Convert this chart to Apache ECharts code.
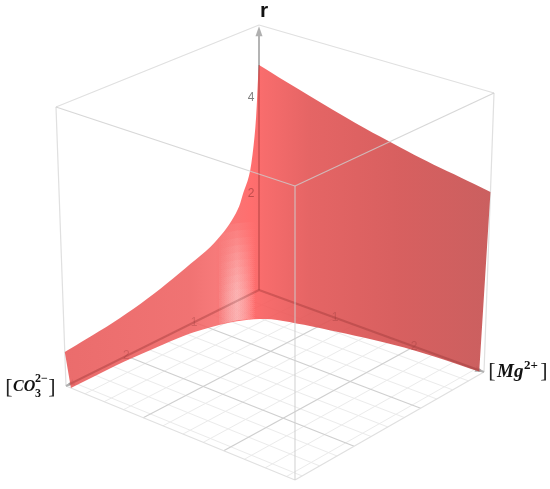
<!DOCTYPE html>
<html><head><meta charset="utf-8">
<style>html,body{margin:0;padding:0;background:#fff}#c{width:550px;height:489px}</style>
<script src="https://cdn.jsdelivr.net/npm/echarts@6/dist/echarts.min.js"></script>
</head><body><div id="c"></div>
<script>
// ---- data: r over the ([CO3], [Mg]) plane ----
const co3Max = 2.85, mgMax = 2.85, rMax = 5.5;
const floorMajor = [1, 2];
const floorMinor = [0.25,0.5,0.75,1.25,1.5,1.75,2.25,2.5,2.75];
const rTicks = [2, 4];
// surface edge against the r-[CO3] wall, from [CO3] end to the corner
const co3Edge  = [2.85,2.545,2.08,1.58,1.125,0.75,0.50,0.33,0.24,0.135,0.055,0.014,0.00];
const co3EdgeR = [0.67,0.72,0.81,0.97,1.18,1.37,1.60,1.87,2.17,2.57,3.42,4.42,4.67];
// surface edge against the r-[Mg] wall, from the corner to [Mg] end
const mgEdge   = [0.00,0.50,1.23,1.70,2.10,2.50,2.85];
const mgEdgeR  = [4.67,4.42,4.08,3.90,3.76,3.65,3.55];
// where the surface meets the floor, from [Mg] end to [CO3] end
const rootMg   = [2.81,2.14,1.68,1.23,0.79,0.49,0.31,0.195,0.126,0.088,0.065,0.065];
const rootCo3  = [0.023,0.057,0.13,0.234,0.353,0.476,0.704,0.998,1.31,1.76,2.21,2.85];

// ---- view: where the box corners land on the page ----
const floorQuad = [[259,290],[66,386],[295,480],[484,372]]; // origin, CO3 end, both, Mg end
const topQuad   = [[259,25],[56,107],[295,186],[494,93]];

function homography(q){
  const [x0,y0]=q[0],[x1,y1]=q[1],[x2,y2]=q[2],[x3,y3]=q[3];
  const dx1=x1-x2,dx2=x3-x2,sx=x0-x1+x2-x3,dy1=y1-y2,dy2=y3-y2,sy=y0-y1+y2-y3;
  const den=dx1*dy2-dx2*dy1, g=(sx*dy2-dx2*sy)/den, h=(dx1*sy-sx*dy1)/den;
  const a=x1-x0+g*x1,b=x3-x0+h*x3,d=y1-y0+g*y1,e=y3-y0+h*y3;
  return (s,t)=>{const w=g*s+h*t+1;return [(a*s+b*t+x0)/w,(d*s+e*t+y0)/w];};
}
const H0=homography(floorQuad), H1=homography(topQuad);
function view(u,v,r){
  const s=u/co3Max,t=v/mgMax,k=r/rMax,p=H0(s,t),q=H1(s,t);
  return [p[0]+(q[0]-p[0])*k,p[1]+(q[1]-p[1])*k];
}
function spline(pts,n){ // smooth rendering of a read curve
  const out=[];
  for(let i=0;i<pts.length-1;i++){
    const p0=pts[Math.max(i-1,0)],p1=pts[i],p2=pts[i+1],p3=pts[Math.min(i+2,pts.length-1)];
    for(let j=0;j<n;j++){const t=j/n,t2=t*t,t3=t2*t;
      out.push([0,1].map(c=>0.5*(2*p1[c]+(p2[c]-p0[c])*t+(2*p0[c]-5*p1[c]+4*p2[c]-p3[c])*t2+(3*p1[c]-p0[c]-3*p2[c]+p3[c])*t3)));}
  }
  out.push(pts[pts.length-1]);
  return out;
}
const leftPts  = co3Edge.map((u,i)=>[u,0,co3EdgeR[i]]);
const rightPts = mgEdge.map((v,i)=>[0,v,mgEdgeR[i]]);
const rootPts  = rootMg.map((v,i)=>[rootCo3[i],v,0]);

// line lists [u1,v1,r1,u2,v2,r2]
const minorLines=[],majorLines=[];
floorMinor.forEach(t=>{minorLines.push([t,0,0,t,mgMax,0],[0,t,0,co3Max,t,0]);});
floorMajor.forEach(t=>{majorLines.push([t,0,0,t,mgMax,0],[0,t,0,co3Max,t,0]);});
const backBox=[[0,0,rMax,co3Max,0,rMax],[0,0,rMax,0,mgMax,rMax],[co3Max,0,0,co3Max,0,rMax],[0,mgMax,0,0,mgMax,rMax],
  [co3Max,0,0,co3Max,mgMax,0],[0,mgMax,0,co3Max,mgMax,0]];
const frontBox=[[co3Max,mgMax,0,co3Max,mgMax,rMax],[co3Max,0,rMax,co3Max,mgMax,rMax],[0,mgMax,rMax,co3Max,mgMax,rMax]];
const axesLines=[[0,0,0,0,0,rMax*0.97],[0,0,0,co3Max,0,0],[0,0,0,0,mgMax,0]];
const axesUnder=[[0,0,0,0,0,4.67],[0,0,0,co3Max*0.985,0,0],[0,0,0,0,mgMax*0.985,0]];

function lineSeries(data,stroke,width,z){
  return {type:'custom',coordinateSystem:'cartesian2d',silent:true,z:z,clip:false,data:data,
    encode:{x:0,y:1},
    renderItem:(p,api)=>{
      const a=api.coord(view(api.value(0),api.value(1),api.value(2)));
      const b=api.coord(view(api.value(3),api.value(4),api.value(5)));
      return {type:'line',shape:{x1:a[0],y1:a[1],x2:b[0],y2:b[1]},style:{stroke:stroke,lineWidth:width,fill:null}};
    }};
}
function wholeSeries(fn,z){
  return {type:'custom',coordinateSystem:'cartesian2d',silent:true,z:z,clip:false,data:[[0,0]],encode:{x:0,y:1},
    renderItem:(p,api)=>fn(api)};
}
function drawSurface(api){
  const c=q=>api.coord(view(q[0],q[1],q[2]));
  const left=spline(leftPts.map(c),5),right=spline(rightPts.map(c),5),root=spline(rootPts.map(c),5);
  const pts=left.concat(right.slice(1),root);
  const a=60,b=492,w=b-a;
  const at=x=>(x-a)/w;
  const fill=new echarts.graphic.LinearGradient(a,0,b,0,[
    {offset:0,color:'rgba(231,84,84,.86)'},
    {offset:at(190),color:'rgba(238,92,92,.86)'},
    {offset:at(215),color:'rgba(245,100,100,.86)'},
    {offset:at(252),color:'rgba(255,90,90,.88)'},
    {offset:at(264),color:'rgba(246,88,88,.88)'},
    {offset:at(310),color:'rgba(226,84,84,.9)'},
    {offset:at(400),color:'rgba(212,82,82,.92)'},
    {offset:1,color:'rgba(198,82,82,.92)'}],true);
  return {type:'polygon',shape:{points:pts},style:{fill:fill,stroke:null}};
}
function drawStreak(height,alpha,x0,x1){
  return api=>{
    const base=[[0.998,0.195],[0.704,0.31],[0.476,0.49]];
    const lo=base.map(b=>api.coord(view(b[0],b[1],0.02)));
    const hi=base.slice().reverse().map(b=>api.coord(view(b[0],b[1],height)));
    const fill=new echarts.graphic.LinearGradient(x0,0,x1,0,[
      {offset:0,color:'rgba(255,255,255,0)'},
      {offset:0.5,color:'rgba(255,240,240,'+alpha+')'},
      {offset:1,color:'rgba(255,255,255,0)'}],true);
    return {type:'polygon',shape:{points:lo.concat(hi)},style:{fill:fill,stroke:null}};
  };
}
const streakLayers=[2.0,1.85,1.7,1.55,1.4,1.25,1.1,0.95,0.8,0.65];
function arrow(tip,dir,len,half,z){
  return wholeSeries(api=>{
    const t=api.coord(view(tip[0],tip[1],tip[2])),d=api.coord(view(dir[0],dir[1],dir[2]));
    const dx=d[0]-t[0],dy=d[1]-t[1],l=Math.hypot(dx,dy),ux=dx/l,uy=dy/l;
    return {type:'polygon',shape:{points:[t,[t[0]+ux*len-uy*half,t[1]+uy*len+ux*half],[t[0]+ux*len+uy*half,t[1]+uy*len-ux*half]]},
      style:{fill:'#b0b0b0',stroke:null}};
  },z);
}
function textSeries(items,z){
  return wholeSeries(()=>({type:'group',children:items.map(t=>({type:'text',
    style:{x:t.x,y:t.y,text:t.text,font:t.font,fill:t.fill,align:t.align||'center',verticalAlign:'middle'}}))}),z);
}
function tickLabelSeries(items,z){
  return wholeSeries(api=>({type:'group',children:items.map(t=>{
    const p=api.coord(view(t.p[0],t.p[1],t.p[2]));
    return {type:'text',style:{x:p[0]+t.dx,y:p[1],text:String(t.text),font:'12px "Liberation Sans"',fill:t.fill,align:'center',verticalAlign:'middle'}};
  })}),z);
}
const tickItems=[
  {p:[0,0,rTicks[1]],dx:-8,text:rTicks[1],fill:'#808080'},
  {p:[0,0,rTicks[0]],dx:-8,text:rTicks[0],fill:'rgba(140,50,50,.55)'}
].concat(
  floorMajor.map(t=>({p:[t,0,0],dx:0,text:t,fill:'rgba(140,50,50,.3)'})),
  floorMajor.map(t=>({p:[0,t,0],dx:0,text:t,fill:'rgba(140,50,50,.3)'})));

const mathFont=s=>'italic bold '+s+'px "Liberation Serif"';
const labels=[
  {x:9,y:387,text:'[',font:'22px "Liberation Serif"',fill:'#222'},
  {x:13,y:387,text:'CO',font:mathFont(16),fill:'#111',align:'left'},
  {x:35,y:379,text:'2−',font:'bold 12px "Liberation Serif"',fill:'#111',align:'left'},
  {x:38,y:394,text:'3',font:'bold 12px "Liberation Serif"',fill:'#111'},
  {x:52,y:387,text:']',font:'22px "Liberation Serif"',fill:'#222'},
  {x:492,y:371,text:'[',font:'22px "Liberation Serif"',fill:'#222'},
  {x:497,y:372,text:'Mg',font:mathFont(19),fill:'#111',align:'left'},
  {x:524,y:366,text:'2+',font:'bold 13px "Liberation Serif"',fill:'#111',align:'left'},
  {x:544,y:371,text:']',font:'22px "Liberation Serif"',fill:'#222'},
  {x:264,y:11,text:'r',font:'bold 21px "Liberation Sans"',fill:'#111'}
];

const chart=echarts.init(document.getElementById('c'),null,{renderer:'canvas'});
chart.setOption({
  animation:false,backgroundColor:'#fff',
  grid:{left:0,right:0,top:0,bottom:0},
  xAxis:{type:'value',min:0,max:550,show:false},
  yAxis:{type:'value',min:0,max:489,inverse:true,show:false},
  series:[
    lineSeries(minorLines,'#ebebeb',1,1),
    lineSeries(majorLines,'#cfcfcf',1.2,2),
    lineSeries(backBox,'#e0e0e0',1.2,3),
    lineSeries(axesLines,'#b4b4b4',2,4),
    arrow([0,0,rMax*0.995],[0,0,0],10,3.5,4),
    arrow([co3Max,0,0],[0,0,0],9,3,4),
    arrow([0,mgMax,0],[0,0,0],9,3,4),
    wholeSeries(drawSurface,5)
  ].concat(
    streakLayers.map(h=>wholeSeries(drawStreak(h,0.065,218,256),6)),
    [
      lineSeries(axesUnder,'rgba(120,40,40,.22)',2,7),
      tickLabelSeries(tickItems,7),
      lineSeries(frontBox,'rgba(205,205,205,.8)',1.2,8),
      textSeries(labels,9)
    ])
});
</script></body></html>
